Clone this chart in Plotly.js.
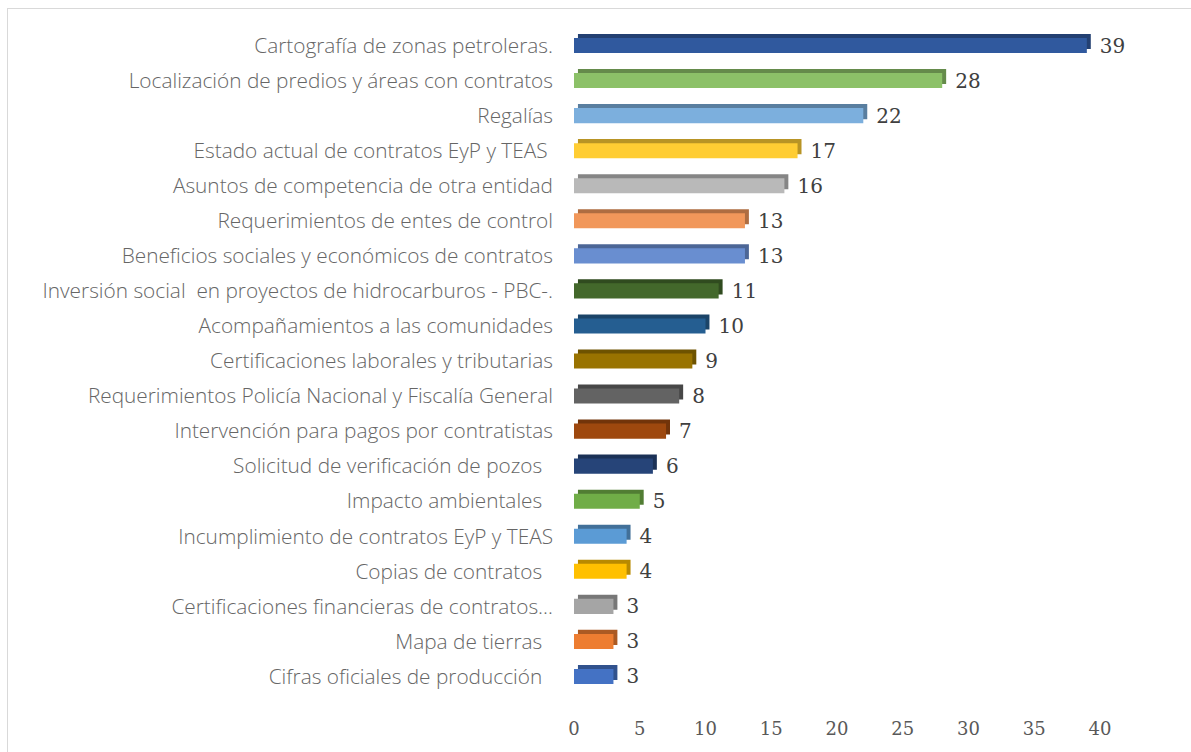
<!DOCTYPE html>
<html>
<head>
<meta charset="utf-8">
<script src="https://cdn.plot.ly/plotly-3.0.1.min.js"></script>
<style>
  html, body { margin: 0; padding: 0; background: #fff; }
  #chart { position: absolute; left: 0; top: 0; width: 1191px; height: 752px; }
  #frame { position: absolute; left: 7px; top: 8px; width: 1200px; height: 760px;
           border-left: 1px solid #d9d9d9; border-top: 1px solid #d9d9d9; pointer-events: none; }
</style>
</head>
<body>
<div id="chart"></div>
<div id="frame"></div>
<script>
// top to bottom
var temas = [
    "Cartografía de zonas petroleras.",
    "Localización de predios y áreas con contratos",
    "Regalías",
    "Estado actual de contratos EyP y TEAS ",
    "Asuntos de competencia de otra entidad",
    "Requerimientos de entes de control",
    "Beneficios sociales y económicos de contratos",
    "Inversión social  en proyectos de hidrocarburos - PBC-.",
    "Acompañamientos a las comunidades",
    "Certificaciones laborales y tributarias",
    "Requerimientos Policía Nacional y Fiscalía General",
    "Intervención para pagos por contratistas",
    "Solicitud de verificación de pozos  ",
    "Impacto ambientales  ",
    "Incumplimiento de contratos EyP y TEAS",
    "Copias de contratos  ",
    "Certificaciones financieras de contratos…",
    "Mapa de tierras  ",
    "Cifras oficiales de producción  "
];
var cantidad = [39, 28, 22, 17, 16, 13, 13, 11, 10, 9, 8, 7, 6, 5, 4, 4, 3, 3, 3];
var colores = [
    "#30599e", "#8cc168", "#7cafdd", "#ffcd33", "#b9b9b9", "#f1975a", "#698ed0",
    "#43682b", "#255e91", "#997300", "#636363", "#9e480e", "#264478",
    "#70ad47", "#5b9bd5", "#ffc000", "#a5a5a5", "#ed7d31", "#4472c4"
];

function darker(hex, f) {
    var n = parseInt(hex.slice(1), 16);
    var r = Math.round(((n >> 16) & 255) * f);
    var g = Math.round(((n >> 8) & 255) * f);
    var b = Math.round((n & 255) * f);
    return "rgb(" + r + "," + g + "," + b + ")";
}

// plotly puts the first category at the bottom, so flip
var y = temas.slice().reverse();
var x = cantidad.slice().reverse();
var cFront = colores.slice().reverse();
var cBack = cFront.map(function (c) { return darker(c, 0.72); });

var depth = 0.3;   // 3d look: a darker copy shifted right and up
var w = 0.43;

var back = {
    type: 'bar', orientation: 'h',
    y: y, x: x, base: depth,
    width: w, offset: -w / 2 + 0.115,
    marker: { color: cBack },
    hoverinfo: 'skip'
};
var front = {
    type: 'bar', orientation: 'h',
    y: y, x: x,
    width: w, offset: -w / 2,
    marker: { color: cFront },
    text: x.map(function (v) { return '\u2002' + v; }),
    textposition: 'outside', constraintext: 'none', cliponaxis: false,
    textfont: { family: 'DejaVu Serif', size: 20, color: '#404040' },
    hoverinfo: 'x+y'
};

var layout = {
    width: 1191, height: 752,
    margin: { l: 574, r: 91, t: 27.5, b: 57.5 },
    barmode: 'overlay',
    showlegend: false,
    paper_bgcolor: 'rgba(0,0,0,0)',
    plot_bgcolor: 'rgba(0,0,0,0)',
    xaxis: {
        range: [0, 40], dtick: 5, showgrid: false, zeroline: false, showline: false,
        tickfont: { family: 'DejaVu Serif', size: 18, color: '#595959' },
        ticklabelstandoff: 22
    },
    yaxis: {
        type: 'category', showgrid: false, showline: false, zeroline: false,
        tickfont: { family: 'Open Sans', weight: 300, size: 20.8, color: '#666666' },
        ticklabelstandoff: 20
    }
};

Plotly.newPlot('chart', [back, front], layout, { displayModeBar: false });
</script>
</body>
</html>
